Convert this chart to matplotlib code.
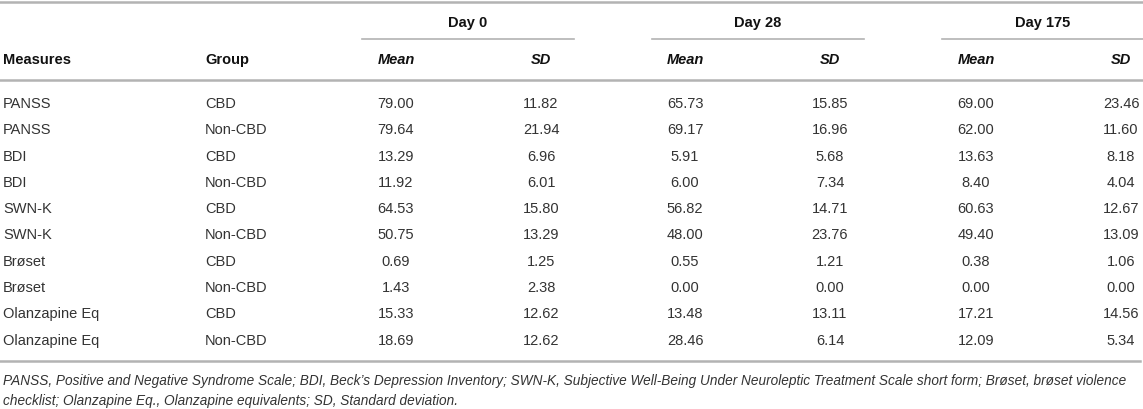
import matplotlib.pyplot as plt

measures = ['PANSS', 'PANSS', 'BDI', 'BDI', 'SWN-K', 'SWN-K', 'Brøset', 'Brøset',
            'Olanzapine Eq', 'Olanzapine Eq']
groups = ['CBD', 'Non-CBD'] * 5
day0_mean = ['79.00', '79.64', '13.29', '11.92', '64.53', '50.75', '0.69', '1.43', '15.33', '18.69']
day0_sd = ['11.82', '21.94', '6.96', '6.01', '15.80', '13.29', '1.25', '2.38', '12.62', '12.62']
day28_mean = ['65.73', '69.17', '5.91', '6.00', '56.82', '48.00', '0.55', '0.00', '13.48', '28.46']
day28_sd = ['15.85', '16.96', '5.68', '7.34', '14.71', '23.76', '1.21', '0.00', '13.11', '6.14']
day175_mean = ['69.00', '62.00', '13.63', '8.40', '60.63', '49.40', '0.38', '0.00', '17.21', '12.09']
day175_sd = ['23.46', '11.60', '8.18', '4.04', '12.67', '13.09', '1.06', '0.00', '14.56', '5.34']
days = ['Day 0', 'Day 28', 'Day 175']
footnote = ['PANSS, Positive and Negative Syndrome Scale; BDI, Beck\u2019s Depression Inventory; '
            'SWN-K, Subjective Well-Being Under Neuroleptic Treatment Scale short form; Brøset, brøset violence',
            'checklist; Olanzapine Eq., Olanzapine equivalents; SD, Standard deviation.']

plt.rcParams['font.family'] = ['Liberation Sans', 'DejaVu Sans']
fig = plt.figure(figsize=(11.43, 4.10), dpi=100)
ax = fig.add_axes([0, 0, 1, 1])
ax.set_xlim(0, 1143)
ax.set_ylim(410, 0)
ax.axis('off')

txt = '#333333'
rule = '#b3b3b3'
fs = 10.5

# rules
ax.plot([0, 1143], [3, 3], color=rule, lw=1.8)
ax.plot([0, 1143], [81, 81], color=rule, lw=1.8)
ax.plot([0, 1140], [362, 362], color=rule, lw=1.8)
day_lines = [(362, 574), (652, 864), (942, 1143)]
for x0, x1 in day_lines:
    ax.plot([x0, x1], [40, 40], color=rule, lw=1.2)

# header
mean_x = [396, 685, 976]
sd_x = [541, 830, 1121]
for i, d in enumerate(days):
    cx = (day_lines[i][0] + day_lines[i][1]) / 2
    ax.text(cx, 23, d, ha='center', va='center', fontsize=fs, fontweight='bold', color='#111111')
    ax.text(mean_x[i], 60, 'Mean', ha='center', va='center', fontsize=fs,
            fontweight='bold', style='italic', color='#111111')
    ax.text(sd_x[i], 60, 'SD', ha='center', va='center', fontsize=fs,
            fontweight='bold', style='italic', color='#111111')
ax.text(3, 60, 'Measures', ha='left', va='center', fontsize=fs, fontweight='bold', color='#111111')
ax.text(205, 60, 'Group', ha='left', va='center', fontsize=fs, fontweight='bold', color='#111111')

# body
cols = [day0_mean, day0_sd, day28_mean, day28_sd, day175_mean, day175_sd]
col_x = [mean_x[0], sd_x[0], mean_x[1], sd_x[1], mean_x[2], sd_x[2]]
for r in range(len(measures)):
    y = 104 + 26.3 * r
    ax.text(3, y, measures[r], ha='left', va='center', fontsize=fs, color=txt)
    ax.text(205, y, groups[r], ha='left', va='center', fontsize=fs, color=txt)
    for c, x in zip(cols, col_x):
        ax.text(x, y, c[r], ha='center', va='center', fontsize=fs, color=txt)

# footnote
ax.text(3, 381, footnote[0], ha='left', va='center', fontsize=9.8, style='italic', color=txt)
ax.text(3, 401, footnote[1], ha='left', va='center', fontsize=9.8, style='italic', color=txt)

plt.savefig('out.png', dpi=100)
